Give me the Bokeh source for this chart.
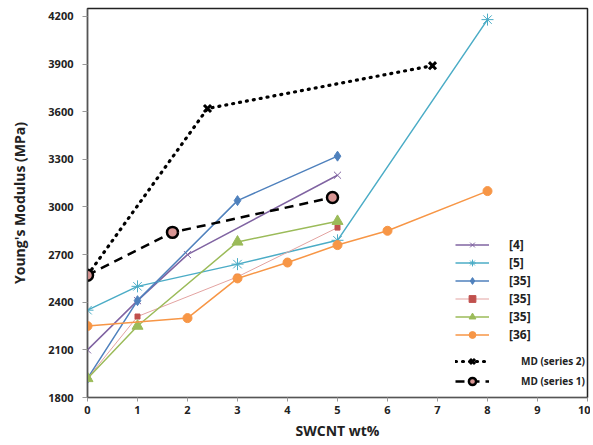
from bokeh.plotting import figure
from bokeh.models import Legend, LegendItem, Range1d, FixedTicker
from bokeh.embed import file_html
from bokeh.resources import INLINE

# ---- data ----
x_4 = [0, 1, 2, 5]
y_4 = [2100, 2410, 2700, 3200]

x_5 = [0, 1, 3, 5, 8]
y_5 = [2350, 2500, 2640, 2790, 4180]

x_35a = [0, 1, 3, 5]
y_35a = [1920, 2410, 3040, 3320]

x_35b = [0, 1, 3, 5]
y_35b = [1920, 2310, 2560, 2870]

x_35c = [0, 1, 3, 5]
y_35c = [1920, 2250, 2780, 2910]

x_36 = [0, 2, 3, 4, 5, 6, 8]
y_36 = [2250, 2300, 2550, 2650, 2760, 2850, 3100]

x_md2 = [0, 2.4, 6.9]
y_md2 = [2570, 3620, 3890]

x_md1 = [0, 1.7, 4.9]
y_md1 = [2570, 2840, 3060]

x_ticks = list(range(0, 11))
y_ticks = [1800, 2100, 2400, 2700, 3000, 3300, 3600, 3900, 4200]

FONT = "Open Sans"

p = figure(width=590, height=442, output_backend="svg", toolbar_location=None,
           x_range=Range1d(0, 10), y_range=Range1d(1800, 4250),
           min_border_left=87, min_border_right=3, min_border_top=8, min_border_bottom=44)
p.background_fill_color = "white"
p.border_fill_color = "white"
p.outline_line_color = "#222222"
p.outline_line_width = 1.5
p.xgrid.visible = False
p.ygrid.visible = False

for ax in (p.xaxis[0], p.yaxis[0]):
    ax.axis_line_color = "#555555"
    ax.axis_line_width = 1.2
    ax.major_tick_line_color = "#999999"
    ax.major_tick_in = 0
    ax.minor_tick_line_color = None
    ax.major_label_text_font = FONT
    ax.major_label_text_font_style = "bold"
    ax.major_label_text_font_size = "11px"
    ax.major_label_text_color = "#222222"
    ax.axis_label_text_font = FONT
    ax.axis_label_text_font_style = "bold"
    ax.axis_label_text_font_size = "14px"
    ax.axis_label_text_color = "#222222"

p.xaxis.ticker = FixedTicker(ticks=x_ticks)
p.yaxis.ticker = FixedTicker(ticks=y_ticks)
p.xaxis.axis_label = "SWCNT wt%"
p.yaxis.axis_label = "Young's Modulus (MPa)"
p.xaxis.major_tick_out = 4
p.yaxis.major_tick_out = 5
p.xaxis.major_label_standoff = 4
p.yaxis.major_label_standoff = 9
p.xaxis.axis_label_standoff = 4
p.yaxis.axis_label_standoff = 16

def series(xs, ys, color, marker, size, lw=1.5, fill=None, line_color=None, mlw=1.0):
    l = p.line(xs, ys, line_color=line_color or color, line_width=lw)
    s = p.scatter(xs, ys, marker=marker, size=size, line_color=color,
                  fill_color=fill if fill is not None else color, line_width=mlw)
    return [l, s]

r4 = series(x_4, y_4, "#8064A2", "x", 10, mlw=1.0)
r5 = series(x_5, y_5, "#4BACC6", "asterisk", 12, mlw=1.0)
r35a = series(x_35a, y_35a, "#4F81BD", "diamond", 10)
r35b = series(x_35b, y_35b, "#C0504D", "square", 5, lw=1.0, line_color="#E3A3A1")
r35c = series(x_35c, y_35c, "#9BBB59", "triangle", 11)
r36 = series(x_36, y_36, "#F79646", "circle", 9)

l_md2 = p.line(x_md2, y_md2, line_color="black", line_width=3.2, line_dash="1 6", line_cap="round")
s_md2 = p.scatter(x_md2, y_md2, marker="x", size=10, line_color="black", line_width=3)
l_md1 = p.line(x_md1, y_md1, line_color="black", line_width=2.5, line_dash="9 6")
s_md1 = p.scatter(x_md1, y_md1, marker="circle", size=11, line_color="black",
                  fill_color="#D99694", line_width=2.5)

leg1 = Legend(items=[
    LegendItem(label="[4]", renderers=r4),
    LegendItem(label="[5]", renderers=r5),
    LegendItem(label="[35]", renderers=r35a),
    LegendItem(label="[35]", renderers=r35b),
    LegendItem(label="[35]", renderers=r35c),
    LegendItem(label="[36]", renderers=r36),
], location=(368, 54))
leg2 = Legend(items=[
    LegendItem(label="MD (series 2)", renderers=[l_md2, s_md2]),
    LegendItem(label="MD (series 1)", renderers=[l_md1, s_md1]),
], location=(368, 7))

for lg, fs, so, gh, sp in ((leg1, "12px", 20, 17, 1), (leg2, "10px", 32, 18, 2)):
    lg.border_line_color = None
    lg.background_fill_alpha = 0
    lg.padding = 0
    lg.margin = 0
    lg.glyph_width = 34
    lg.glyph_height = gh
    lg.label_height = gh
    lg.spacing = sp
    lg.label_standoff = so
    lg.label_text_font = FONT
    lg.label_text_font_style = "bold"
    lg.label_text_font_size = fs
    lg.label_text_color = "#222222"
    p.add_layout(lg, "center")

open("out.html", "w").write(file_html(p, INLINE))
